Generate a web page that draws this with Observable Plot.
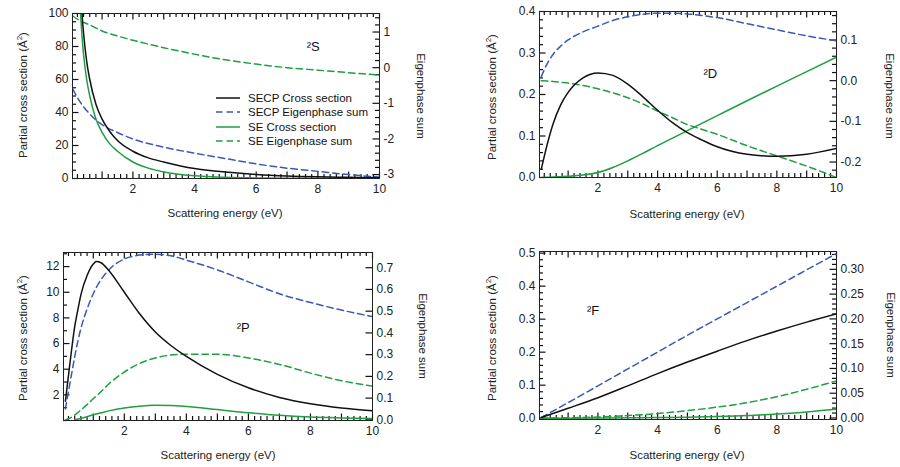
<!DOCTYPE html>
<html><head><meta charset="utf-8">
<script src="https://cdn.jsdelivr.net/npm/d3@7"></script>
<script src="https://cdn.jsdelivr.net/npm/@observablehq/plot@0.6"></script>
<style>
body{margin:0;background:#fff;}
#wrap{position:relative;width:900px;height:467px;font-family:'Liberation Sans',Arial,sans-serif;color:#222;}
.pan{position:absolute;}
.t{position:absolute;white-space:nowrap;font-size:11.5px;color:#222;transform:translate(-50%,-50%);}
.t.l{transform:translate(-50%,-50%) rotate(-90deg);}
.t.r{transform:translate(-50%,-50%) rotate(90deg);}
#legend{position:absolute;left:214px;top:91px;font-size:11.5px;line-height:14.3px;color:#111;}
#legend div{display:flex;align-items:center;height:14.3px;}
#legend svg{margin-right:8px;}
</style></head>
<body>
<div id="wrap"></div>
<script>
// ---------- DATA ----------
// 2S
const S_x_cs = [0.3,0.35,0.4,0.5,0.6,0.8,1.0,1.25,1.5,2,2.5,3,4,5,6,7,8,9,10];
const S_secp_cs = [125,100,88,71,60,45,36,28.5,23,16.5,12.5,10,6,3.9,2.4,1.5,1,0.7,0.5];
const S_se_cs = [100,86,75,60,50,36,28,21,16.5,10,6.3,4,1.6,0.7,0.3,0.15,0.1,0.05,0.03];
const S_x_eig = [0.05,0.2,0.4,0.6,1,1.5,2,3,4,5,6,7,8,9,10];
const S_secp_eig = [-0.6,-0.84,-1.1,-1.3,-1.6,-1.82,-2.0,-2.23,-2.4,-2.55,-2.7,-2.82,-2.91,-3.0,-3.07];
const S_se_eig = [1.45,1.36,1.27,1.2,1.03,0.89,0.77,0.56,0.38,0.22,0.1,0.0,-0.07,-0.14,-0.21];
// 2D
const D_x = [0.1,0.3,0.5,0.75,1,1.5,2,2.5,3,3.5,4,4.5,5,5.5,6,7,8,9,10];
const D_secp_cs = [0.02,0.08,0.13,0.175,0.205,0.24,0.252,0.246,0.225,0.195,0.162,0.132,0.108,0.09,0.074,0.056,0.051,0.056,0.07];
const D_se_cs = [0,0.0005,0.001,0.002,0.003,0.006,0.012,0.024,0.04,0.058,0.077,0.095,0.113,0.131,0.149,0.185,0.22,0.255,0.29];
const D_secp_eig = [0.01,0.042,0.065,0.085,0.1,0.12,0.134,0.148,0.157,0.163,0.166,0.166,0.164,0.16,0.155,0.14,0.125,0.11,0.098];
const D_se_eig = [0,-0.001,-0.002,-0.004,-0.006,-0.012,-0.02,-0.03,-0.042,-0.057,-0.075,-0.091,-0.108,-0.12,-0.132,-0.16,-0.185,-0.21,-0.238];
// 2P
const P_x = [0.1,0.2,0.3,0.4,0.5,0.6,0.8,1.0,1.1,1.25,1.5,2,2.5,3,3.5,4,5,6,7,8,9,10];
const P_secp_cs = [1.5,3.5,5.5,7.3,8.6,9.8,11.3,12.2,12.4,12.3,11.7,10.0,8.3,6.9,5.85,5.0,3.6,2.55,1.8,1.3,0.97,0.75];
const P_secp_eig = [0.05,0.13,0.21,0.29,0.36,0.42,0.51,0.58,0.61,0.645,0.69,0.74,0.758,0.762,0.755,0.735,0.69,0.635,0.58,0.54,0.505,0.475];
const P_se_eig = [0.0,0.005,0.012,0.022,0.033,0.045,0.07,0.097,0.11,0.13,0.165,0.22,0.26,0.285,0.298,0.302,0.302,0.285,0.255,0.215,0.18,0.155];
const P_x_se = [0.4,0.6,0.8,1,1.25,1.5,2,2.5,3,3.5,4,5,6,7,8,9,10];
const P_se_cs = [0.05,0.15,0.3,0.45,0.6,0.75,0.98,1.12,1.18,1.17,1.1,0.85,0.6,0.4,0.27,0.2,0.15];
// 2F
const F_x = [0.1,1,2,3,4,5,6,7,8,9,10];
const F_secp_cs = [0.002,0.03,0.062,0.098,0.135,0.17,0.203,0.235,0.264,0.291,0.316];
const F_se_cs = [0,0,0.0005,0.001,0.002,0.003,0.005,0.008,0.013,0.019,0.027];
const F_secp_eig = [0.001,0.031,0.065,0.099,0.133,0.167,0.2,0.233,0.266,0.299,0.332];
const F_se_eig = [0,0.0005,0.002,0.005,0.009,0.015,0.022,0.031,0.043,0.058,0.075];

// tick labels
const xTickLabels = [2,4,6,8,10];
const S_leftTicks = [0,20,40,60,80,100];
const S_rightTicks = [-3,-2,-1,0,1];
const D_leftTicks = [0,0.1,0.2,0.3,0.4];
const D_rightTicks = [-0.2,-0.1,0,0.1];
const P_leftTicks = [2,4,6,8,10,12];
const P_rightTicks = [0,0.1,0.2,0.3,0.4,0.5,0.6,0.7];
const F_leftTicks = [0,0.1,0.2,0.3,0.4,0.5];
const F_rightTicks = [0,0.05,0.1,0.15,0.2,0.25,0.3];

const seriesNames = ["SECP Cross section","SECP Eigenphase sum","SE Cross section","SE Eigenphase sum"];
const BLACK="#111111", BLUE="#3b58b5", GREEN="#1f9e42";
const DASH="6.5,4";

// ---------- DRAW ----------
const wrap = document.getElementById("wrap");
const fmt = n => v => { const r = Math.abs(v) < 1e-9 ? 0 : v; return r.toFixed(n); };
const steps = (a,b,s) => d3.range(Math.round(a/s), Math.round(b/s)+1).map(k => +(k*s).toFixed(6));

function panel(o){
  const W=450, H=233;
  const fw = W-o.mL-o.mR, fh = H-o.mT-o.mB;
  const [x0,x1] = o.xDom, [l0,l1] = o.yDom, [r0,r1] = o.rDom;
  const toL = r => l0 + (r-r0)*(l1-l0)/(r1-r0);
  const inX = v => v >= x0 && v <= x1+1e-9;
  const inY = v => v >= l0-1e-9 && v <= l1+1e-9;
  const px = (x1-x0)/fw, py = (l1-l0)/fh;
  const TK = "#111", MAJ=6.5, MIN=4;
  const xMaj = steps(1,10,1).filter(inX);
  const xMin = steps(0.2,10,0.2).filter(inX).filter(v => Math.abs(v-Math.round(v))>1e-6);
  const yMaj = o.yMajor.filter(inY);
  const yMin = o.yMinor ? steps(l0<0?0:l0, l1, o.yMinor).filter(inY).filter(v=>!yMaj.some(m=>Math.abs(m-v)<1e-9)) : [];
  const rMajL = o.rMajor.map(toL).filter(inY);
  const rMinL = o.rMinor ? steps(Math.ceil(r0/o.rMinor)*o.rMinor, r1, o.rMinor).filter(v=>!o.rMajor.some(m=>Math.abs(m-v)<1e-9)).map(toL).filter(inY) : [];
  const sw = {stroke:TK, strokeWidth:1.2};
  const marks = [
    Plot.ruleX(xMaj,{x:d=>d, y1:l0, y2:l0+MAJ*py, ...sw}),
    Plot.ruleX(xMin,{x:d=>d, y1:l0, y2:l0+MIN*py, ...sw}),
    Plot.ruleX(xMaj,{x:d=>d, y1:l1, y2:l1-MAJ*py, ...sw}),
    Plot.ruleX(xMin,{x:d=>d, y1:l1, y2:l1-MIN*py, ...sw}),
    Plot.ruleY(yMaj,{y:d=>d, x1:x0, x2:x0+MAJ*px, ...sw}),
    Plot.ruleY(yMin,{y:d=>d, x1:x0, x2:x0+MIN*px, ...sw}),
    Plot.ruleY(rMajL,{y:d=>d, x1:x1, x2:x1-MAJ*px, ...sw}),
    Plot.ruleY(rMinL,{y:d=>d, x1:x1, x2:x1-MIN*px, ...sw}),
  ];
  for (const s of o.series){
    const data = s.x.map((x,i)=>({x, y: s.axis==="right" ? toL(s.y[i]) : s.y[i]}));
    marks.push(Plot.line(data,{x:"x", y:"y", stroke:s.color, strokeWidth:1.5, strokeDasharray:s.dash||null, curve:"monotone-x", clip:true}));
  }
  marks.push(
    Plot.frame({stroke:"#222", strokeWidth:1}),
    Plot.axisX(xTickLabels,{anchor:"bottom", tickSize:0, tickPadding:6, tickFormat:fmt(0), label:null}),
    Plot.axisY(o.yMajor,{anchor:"left", tickSize:0, tickPadding:4, tickFormat:o.yFmt, label:null}),
    Plot.axisY(o.rMajor.map(toL),{anchor:"right", tickSize:0, tickPadding:4, tickFormat: d => o.rFmt(r0 + (d-l0)*(r1-r0)/(l1-l0)), label:null}),
    Plot.text([o.note],{x:"x", y:"y", text:"t", fontSize:13, fill:"#111", textAnchor:"middle"})
  );
  const svg = Plot.plot({
    width:W, height:H, marginLeft:o.mL, marginRight:o.mR, marginTop:o.mT, marginBottom:o.mB,
    x:{domain:o.xDom}, y:{domain:o.yDom},
    style:{fontFamily:"'Liberation Sans',Arial,sans-serif", fontSize:"12px", color:"#222", background:"transparent", overflow:"visible"},
    marks
  });
  const d = document.createElement("div");
  d.className="pan"; d.style.left=o.left+"px"; d.style.top=o.top+"px";
  d.appendChild(svg); wrap.appendChild(d);
  const addT = (txt, x, y, cls) => { const t=document.createElement("div"); t.className="t "+(cls||""); t.innerHTML=txt; t.style.left=(o.left+x)+"px"; t.style.top=(o.top+y)+"px"; wrap.appendChild(t); };
  addT("Scattering energy (eV)", o.xt[0], o.xt[1]);
  addT("Partial cross section (Å<sup style='font-size:8px'>2</sup>)", o.lt[0], o.lt[1], "l");
  addT("Eigenphase sum", o.rt[0], o.rt[1], "r");
}

const mk = (x,y,axis,color,dash) => ({x,y,axis,color,dash});

panel({left:0, top:0, mL:72, mR:71, mT:13, mB:55, xDom:[0.04,10], yDom:[0,100], rDom:[-3.11,1.52],
  yMajor:S_leftTicks, yMinor:5, yFmt:fmt(0), rMajor:S_rightTicks, rMinor:0.2, rFmt:fmt(0),
  series:[mk(S_x_eig,S_secp_eig,"right",BLUE,DASH), mk(S_x_eig,S_se_eig,"right",GREEN,DASH), mk(S_x_cs,S_se_cs,"left",GREEN), mk(S_x_cs,S_secp_cs,"left",BLACK)],
  note:{x:7.85,y:80,t:"²S"}, xt:[225,213], lt:[22,95], rt:[421,96]});

panel({left:450, top:0, mL:89, mR:64, mT:11, mB:56, xDom:[0.04,10], yDom:[0,0.4], rDom:[-0.238,0.17],
  yMajor:D_leftTicks, yMinor:0.02, yFmt:fmt(1), rMajor:D_rightTicks, rMinor:0.02, rFmt:fmt(1),
  series:[mk(D_x,D_secp_eig,"right",BLUE,DASH), mk(D_x,D_se_eig,"right",GREEN,DASH), mk(D_x,D_se_cs,"left",GREEN), mk(D_x,D_secp_cs,"left",BLACK)],
  note:{x:5.77,y:0.25,t:"²D"}, xt:[237,214], lt:[41,97], rt:[440,96]});

panel({left:0, top:234, mL:63, mR:78, mT:18, mB:47, xDom:[0.04,10], yDom:[0,13.1], rDom:[-0.003,0.77],
  yMajor:P_leftTicks, yMinor:1, yFmt:fmt(0), rMajor:P_rightTicks, rMinor:null, rFmt:fmt(1),
  series:[mk(P_x,P_secp_eig,"right",BLUE,DASH), mk(P_x,P_se_eig,"right",GREEN,DASH), mk(P_x_se,P_se_cs,"left",GREEN), mk(P_x,P_secp_cs,"left",BLACK)],
  note:{x:5.83,y:7.2,t:"²P"}, xt:[218,221], lt:[22,104], rt:[423,102]});

panel({left:450, top:234, mL:89, mR:64, mT:17, mB:48, xDom:[0.04,10], yDom:[-0.004,0.505], rDom:[-0.003,0.336],
  yMajor:F_leftTicks, yMinor:0.02, yFmt:fmt(1), rMajor:F_rightTicks, rMinor:0.01, rFmt:fmt(2),
  series:[mk(F_x,F_secp_eig,"right",BLUE,DASH), mk(F_x,F_se_eig,"right",GREEN,DASH), mk(F_x,F_se_cs,"left",GREEN), mk(F_x,F_secp_cs,"left",BLACK)],
  note:{x:1.84,y:0.325,t:"²F"}, xt:[237,221], lt:[41,104], rt:[441,101]});

// legend (panel 2S)
const lg = document.createElement("div"); lg.id="legend";
const legStyles = [[BLACK,null],[BLUE,DASH],[GREEN,null],[GREEN,DASH]];
seriesNames.forEach((n,i)=>{
  const row=document.createElement("div");
  const [c,da]=legStyles[i];
  row.innerHTML=`<svg width="26" height="6"><line x1="2" y1="3" x2="26" y2="3" stroke="${c}" stroke-width="1.5" ${da?`stroke-dasharray="${da}"`:""}/></svg><span>${n}</span>`;
  lg.appendChild(row);
});
wrap.appendChild(lg);
</script>
</body></html>
